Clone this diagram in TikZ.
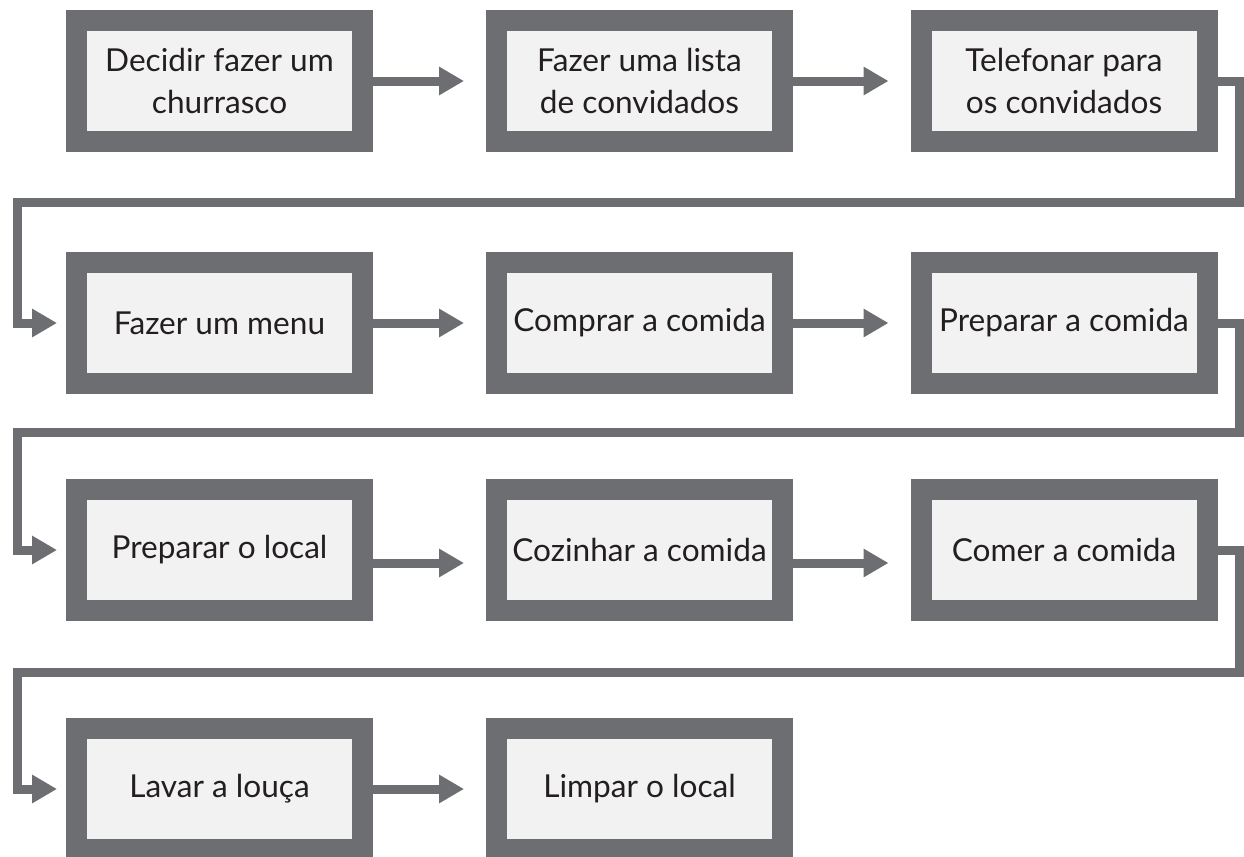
\documentclass[tikz,border=0pt]{standalone}
\usepackage{fontspec}
\setmainfont{Lato}
\usepackage{tikz}
\usetikzlibrary{positioning, arrows.meta}
\usepackage{xcolor}
\definecolor{moldura}{RGB}{109,110,113}
\definecolor{fundo}{RGB}{242,242,243}
\definecolor{texto}{RGB}{35,31,32}

\begin{document}
\begin{tikzpicture}[x=0.5pt, y=-0.5pt,
	every node/.style={rectangle, draw=moldura, fill=fundo, line width=10.5pt, outer sep=5.25pt,
		minimum width=143pt, minimum height=60.5pt, align=center, text=texto,
		font=\fontsize{15.8}{21}\selectfont},
	seta/.style={draw=moldura, line width=4.5pt, -{Triangle[length=12.5pt, width=13.5pt]}, shorten >=11pt},
	retorno/.style={seta, shorten >=4.5pt}]
	\useasboundingbox (0,0) rectangle (1244,857);

	\node (decidir)   at (219.5,81)  {Decidir fazer um\\churrasco};
	\node (lista)     at (639.5,81)  {Fazer uma lista\\de convidados};
	\node (telefonar) at (1064,81)   {Telefonar para\\os convidados};
	\node (menu)      at (219.5,323) {Fazer um menu};
	\node (comprar)   at (639.5,323) {Comprar a comida};
	\node (preparar)  at (1064,323)  {Preparar a comida};
	\node (local)     at (219.5,550) {Preparar o local};
	\node (cozinhar)  at (639.5,550) {Cozinhar a comida};
	\node (comer)     at (1064,550)  {Comer a comida};
	\node (lavar)     at (219.5,789) {Lavar a louça};
	\node (limpar)    at (639.5,789) {Limpar o local};

	\coordinate (d1) at (1239,202);
	\coordinate (e1) at (17,202);
	\coordinate (d2) at (1239,432);
	\coordinate (e2) at (17,432);
	\coordinate (d3) at (1239,672);
	\coordinate (e3) at (17,672);

	\draw[seta] (decidir) -- (lista);
	\draw[seta] (lista) -- (telefonar);
	\draw[retorno] (telefonar.east) -| (d1) -- (e1) |- (menu.west);
	\draw[seta] (menu) -- (comprar);
	\draw[seta] (comprar) -- (preparar);
	\draw[retorno] (preparar.east) -| (d2) -- (e2) |- (local.west);
	\draw[seta] ([yshift=-6.5pt]local.east) -- ([yshift=-6.5pt]cozinhar.west);
	\draw[seta] ([yshift=-6.5pt]cozinhar.east) -- ([yshift=-6.5pt]comer.west);
	\draw[retorno] (comer.east) -| (d3) -- (e3) |- (lavar.west);
	\draw[seta] (lavar) -- (limpar);
\end{tikzpicture}
\end{document}
